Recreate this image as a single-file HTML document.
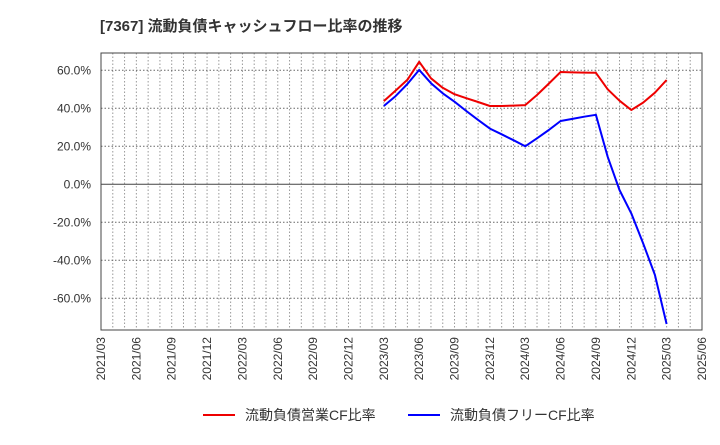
<!DOCTYPE html>
<html><head><meta charset="utf-8"><style>
body{margin:0;background:#fff;width:720px;height:440px;overflow:hidden;font-family:"Liberation Sans","Noto Sans CJK JP",sans-serif}
</style></head><body>
<svg width="720" height="440" xmlns="http://www.w3.org/2000/svg">
<text x="100" y="31" font-size="15" font-weight="bold" fill="#333">[7367]  流動負債キャッシュフロー比率の推移</text>
<g id="grid"></g>
<line x1="101" y1="184.3" x2="702" y2="184.3" stroke="#444" stroke-width="1"/>
<rect x="101" y="53" width="601" height="277" fill="none" stroke="#444"/>
<g id="ylab"></g><g id="xlab"></g><g id="series"></g>
<g>
<line x1="203" y1="415" x2="235" y2="415" stroke="#e00" stroke-width="2"/>
<text x="245" y="420" font-size="14" fill="#333">流動負債営業CF比率</text>
<line x1="408" y1="415" x2="440" y2="415" stroke="#00f" stroke-width="2"/>
<text x="450" y="420" font-size="14" fill="#333">流動負債フリーCF比率</text>
</g>
</svg>
<script>
const xTickLabels=["2021/03","2021/06","2021/09","2021/12","2022/03","2022/06","2022/09","2022/12","2023/03","2023/06","2023/09","2023/12","2024/03","2024/06","2024/09","2024/12","2025/03","2025/06"];
const yTicks=[60,40,20,0,-20,-40,-60];
const startMonth=24; // 2023/03 index in months from 2021/03
const operatingCF=[43.8,49.3,55,64.5,55.8,50.8,47.4,45.3,43.3,41.2,41.2,41.4,41.7,47,53,59.1,58.9,58.8,58.7,50,44,39.1,43,48.2,54.9];
const freeCF=[41.2,46.4,52.8,60.2,53.2,47.9,43.5,38.6,33.9,29.3,26.3,23.2,20,24.2,28.6,33.3,34.4,35.6,36.6,14.5,-3,-15.3,-31,-47.7,-73.5];
const NS="http://www.w3.org/2000/svg";
const X=m=>101+m*(601/51);
const Y=v=>184.3-v*1.9;
function mk(t,a,p){const e=document.createElementNS(NS,t);for(const k in a)e.setAttribute(k,a[k]);document.getElementById(p).appendChild(e);return e;}
for(let m=1;m<51;m++){const l=mk('line',{x1:X(m),x2:X(m),y1:53,y2:330,stroke:'#999','stroke-dasharray':'1.5,2'},'grid');

}
yTicks.forEach(v=>{if(v!==0){const l=mk('line',{x1:101,x2:702,y1:Y(v),y2:Y(v),stroke:'#666','stroke-dasharray':'1.5,2'},'grid');

}
const t=mk('text',{x:91,y:Y(v)+4,'font-size':12,fill:'#333','text-anchor':'end'},'ylab');t.textContent=v.toFixed(1)+'%';

});
xTickLabels.forEach((s,i)=>{const x=X(i*3)+4;const t=mk('text',{x:x,y:337,'font-size':12,fill:'#333','text-anchor':'end',transform:`rotate(-90 ${x} 337)`},'xlab');t.textContent=s;

});
function line(d,c,n){const p=d.map((v,i)=>X(startMonth+i).toFixed(1)+','+Y(v).toFixed(1)).join(' ');
const e=mk('polyline',{points:p,fill:'none',stroke:c,'stroke-width':2,'stroke-linejoin':'round'},'series');

}
line(operatingCF,'#e00','operating-cf-line');
line(freeCF,'#00f','free-cf-line');
</script>
</body></html>
